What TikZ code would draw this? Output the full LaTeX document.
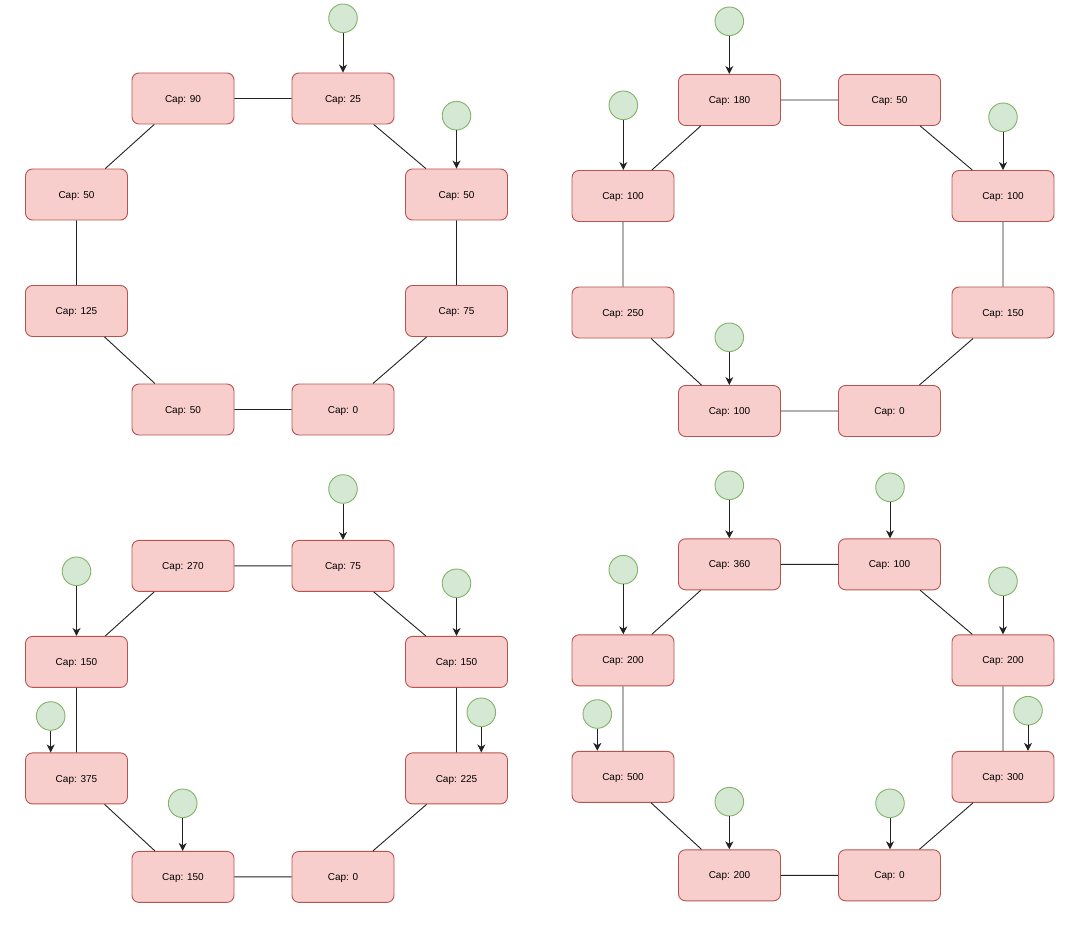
\documentclass[tikz,border=0pt]{standalone}
\usepackage{fontspec}
\setmainfont{Liberation Sans}
\usetikzlibrary{arrows.meta}
\definecolor{boxfill}{HTML}{F8CECC}
\definecolor{boxline}{HTML}{B85450}
\definecolor{srcfill}{HTML}{D5E8D4}
\definecolor{srcline}{HTML}{82B366}
\definecolor{wire}{HTML}{222222}

\tikzset{
  capbox/.style={draw=boxline, fill=boxfill, line width=0.9pt, rounded corners=7pt,
    minimum width=102pt, minimum height=51pt, inner sep=0pt,
    text height=7.2pt, text depth=0pt,
    font=\fontsize{10}{12}\selectfont},
  srcnode/.style={circle, draw=srcline, fill=srcfill, line width=0.9pt,
    minimum size=28.6pt, inner sep=0pt},
  link/.style={draw=wire, line width=0.9pt},
  feedarrow/.style={draw=wire, line width=1pt,
    -{Stealth[length=8pt, width=8pt, inset=2.4pt]}}
}

% One ring of eight capacity boxes: prefix, then labels in the order
% top-left, top-right, right-upper, right-lower, bottom-right, bottom-left,
% left-lower, left-upper.
\newcommand\capring[9]{%
  \node[capbox] (#1t1) at (183,98.5)   {Cap: #2};
  \node[capbox] (#1t2) at (343,98.5)   {Cap: #3};
  \node[capbox] (#1r1) at (456.5,194.5) {Cap: #4};
  \node[capbox] (#1r2) at (456.5,311)   {Cap: #5};
  \node[capbox] (#1b2) at (343,409.5)  {Cap: #6};
  \node[capbox] (#1b1) at (183,409.5)  {Cap: #7};
  \node[capbox] (#1l2) at (76.5,311)    {Cap: #8};
  \node[capbox] (#1l1) at (76.5,194.5)  {Cap: #9};
  \path[link] (#1t1) -- (#1t2) -- (#1r1) -- (#1r2) -- (#1b2) -- (#1b1)
              -- (#1l2) -- (#1l1) -- (#1t1);
}

% A source circle feeding straight down into a box
\newcommand\feed[2]{%
  \node[srcnode] (#1src) at (#2) {};
  \draw[feedarrow] (#1src) -- (#1src |- #1.north);
}

\begin{document}
\begin{tikzpicture}[x=1pt, y=-1pt]
  \useasboundingbox (0,0) rectangle (1084,925);

  % ring A
  \begin{scope}
    \capring{a}{90}{25}{50}{75}{0}{50}{125}{50}
    \feed{at2}{343,18.3}
    \feed{ar1}{456.5,115.7}
  \end{scope}

  % ring B
  \begin{scope}[shift={(546.5,1.5)}]
    \capring{b}{180}{50}{100}{150}{0}{100}{250}{100}
    \feed{bt1}{182.8,19.8}
    \feed{bl1}{76.8,103.8}
    \feed{br1}{456.5,115.8}
    \feed{bb1}{182.8,335.8}
  \end{scope}

  % ring C
  \begin{scope}[shift={(0,467.4)}]
    \capring{c}{270}{75}{150}{225}{0}{150}{375}{150}
    \feed{ct2}{343,21.6}
    \feed{cl1}{76.5,103.9}
    \feed{cr1}{456.5,115.9}
    \feed{cl2}{50.7,248.6}
    \feed{cb1}{182.7,335.9}
    \feed{cr2}{481.3,244.9}
  \end{scope}

  % ring D
  \begin{scope}[shift={(546.5,465.8)}]
    \capring{d}{360}{100}{200}{300}{0}{200}{500}{200}
    \feed{dt1}{182.8,19.5}
    \feed{dt2}{343.5,21.5}
    \feed{dl1}{76.8,103.9}
    \feed{dr1}{456.5,115.5}
    \feed{dl2}{50.8,248.2}
    \feed{dr2}{481.5,244.9}
    \feed{db1}{182.8,335.9}
    \feed{db2}{343.5,337.5}
  \end{scope}
\end{tikzpicture}
\end{document}
